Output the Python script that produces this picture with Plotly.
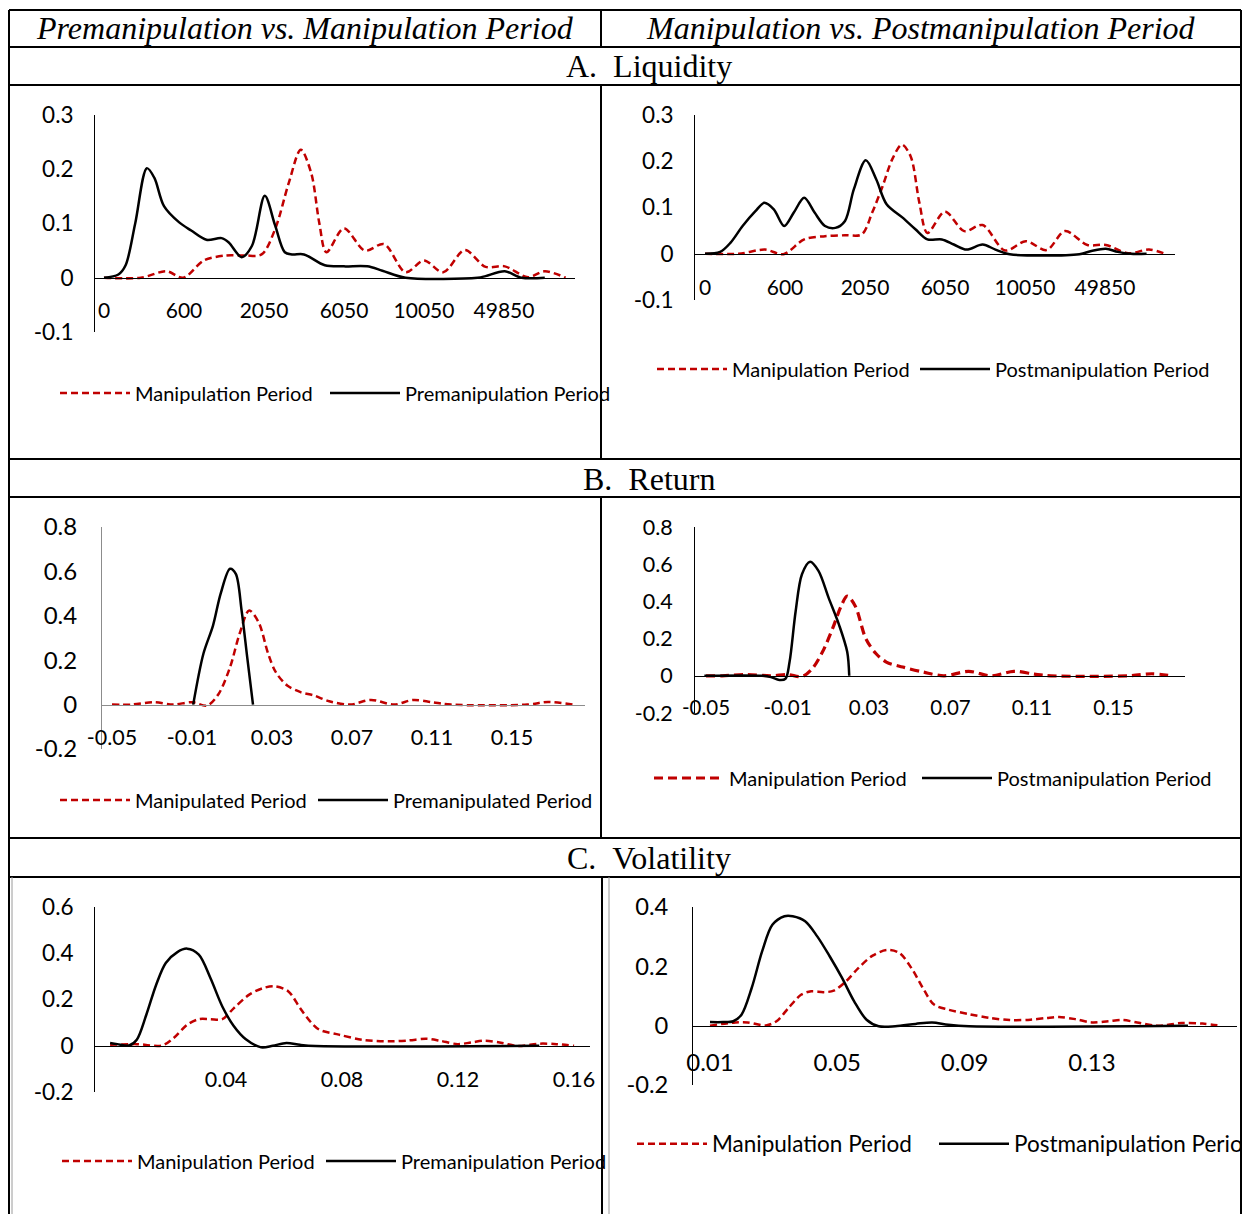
import plotly.graph_objects as go

W, H = 1242, 1214

# ---------------- data ----------------
# Panel A (Liquidity): x is the position on the category axis (label spacing = 1)
liq_tickvals = [0, 1, 2, 3, 4, 5]
liq_ticktext = ['0', '600', '2050', '6050', '10050', '49850']

liqL_man_x = [0, 0.46, 0.78, 0.99, 1.25, 1.52, 1.76, 1.97, 2.14, 2.31, 2.46, 2.59, 2.69, 2.78, 3.0, 3.26, 3.5, 3.77, 4.0, 4.24, 4.51, 4.77, 5.01, 5.3, 5.51, 5.77]
liqL_man_y = [0, 0, 0.012, 0, 0.032, 0.041, 0.041, 0.043, 0.09, 0.175, 0.236, 0.193, 0.102, 0.047, 0.091, 0.05, 0.062, 0.01, 0.032, 0.01, 0.051, 0.02, 0.021, 0.001, 0.012, 0]
liqL_pre_x = [0, 0.18, 0.27, 0.39, 0.536, 0.63, 0.75, 0.94, 1.09, 1.28, 1.47, 1.56, 1.72, 1.85, 2.01, 2.14, 2.26, 2.35, 2.5, 2.76, 3.0, 3.29, 3.48, 3.77, 4.67, 4.77, 5.01, 5.22, 5.51]
liqL_pre_y = [0, 0.006, 0.023, 0.10, 0.202, 0.184, 0.132, 0.102, 0.087, 0.07, 0.073, 0.065, 0.038, 0.059, 0.151, 0.096, 0.047, 0.043, 0.043, 0.023, 0.021, 0.021, 0.013, 0, 0, 0.003, 0.012, 0, 0]

liqR_man_x = [0, 0.42, 0.75, 0.98, 1.24, 1.5, 1.75, 1.96, 2.09, 2.22, 2.34, 2.46, 2.57, 2.68, 2.78, 3.0, 3.24, 3.47, 3.75, 4.01, 4.27, 4.5, 4.78, 5.01, 5.29, 5.55, 5.75]
liqR_man_y = [0, 0, 0.009, -0.001, 0.031, 0.038, 0.04, 0.042, 0.089, 0.146, 0.204, 0.236, 0.211, 0.11, 0.045, 0.091, 0.049, 0.062, 0.007, 0.027, 0.008, 0.049, 0.019, 0.019, 0.001, 0.009, 0]
liqR_post_x = [0, 0.19, 0.32, 0.47, 0.63, 0.74, 0.86, 0.99, 1.11, 1.24, 1.37, 1.5, 1.63, 1.75, 1.86, 2.01, 2.14, 2.27, 2.47, 2.63, 2.78, 2.96, 3.11, 3.27, 3.47, 3.63, 3.81, 4.68, 4.83, 5.01, 5.16, 5.32, 5.52]
liqR_post_y = [0, 0.004, 0.024, 0.06, 0.092, 0.11, 0.096, 0.06, 0.089, 0.121, 0.089, 0.06, 0.056, 0.071, 0.139, 0.202, 0.161, 0.107, 0.078, 0.053, 0.031, 0.031, 0.02, 0.009, 0.02, 0.009, -0.001, -0.001, 0.006, 0.011, 0.004, 0, 0]

# Panel B (Return)
ret_tickvals = [-0.05, -0.01, 0.03, 0.07, 0.11, 0.15]
ret_ticktext = ['-0.05', '-0.01', '0.03', '0.07', '0.11', '0.15']

retL_man_x = [-0.05, -0.0405, -0.029, -0.0195, -0.01, -0.0024, 0.0033, 0.009, 0.0138, 0.0186, 0.0233, 0.0281, 0.0319, 0.0376, 0.0443, 0.051, 0.0586, 0.069, 0.0795, 0.091, 0.1005, 0.11, 0.1195, 0.1576, 0.168, 0.1805]
retL_man_y = [0, 0, 0.011, 0, 0.011, -0.004, 0.048, 0.168, 0.319, 0.424, 0.371, 0.229, 0.146, 0.086, 0.056, 0.041, 0.015, 0, 0.021, 0, 0.021, 0.011, 0, 0, 0.012, 0]
retL_pre_x = [-0.0094, -0.0043, 0.0005, 0.0043, 0.009, 0.0119, 0.0148, 0.0176, 0.0205]
retL_pre_y = [0, 0.229, 0.356, 0.499, 0.612, 0.589, 0.424, 0.214, 0]

retR_man_x = [-0.05, -0.042, -0.03, -0.018, -0.01, -0.0029, 0.0021, 0.0072, 0.0122, 0.0163, 0.0193, 0.0233, 0.0284, 0.0334, 0.0385, 0.0466, 0.0567, 0.0668, 0.0789, 0.09, 0.1011, 0.1112, 0.1193, 0.1577, 0.1688, 0.1789]
retR_man_y = [0, 0, 0.007, 0, 0.007, -0.004, 0.038, 0.129, 0.256, 0.374, 0.428, 0.374, 0.201, 0.12, 0.074, 0.047, 0.02, 0, 0.024, 0, 0.024, 0.009, 0, 0, 0.011, 0]
retR_post_x = [-0.0508, -0.0221, -0.0181, -0.014, -0.011, -0.009, -0.006, -0.0029, 0.0011, 0.0052, 0.0102, 0.0153, 0.0193, 0.0203]
retR_post_y = [0, 0, -0.007, -0.022, -0.016, 0.074, 0.347, 0.546, 0.613, 0.564, 0.419, 0.274, 0.129, 0]

# Panel C (Volatility)
volL_tickvals = [0.04, 0.08, 0.12, 0.16]
volL_ticktext = ['0.04', '0.08', '0.12', '0.16']
volR_tickvals = [0.01, 0.05, 0.09, 0.13]
volR_ticktext = ['0.01', '0.05', '0.09', '0.13']

volL_man_x = [0.0, 0.0092, 0.0179, 0.0219, 0.0266, 0.0306, 0.0346, 0.0387, 0.0427, 0.048, 0.0527, 0.0568, 0.0615, 0.0655, 0.0695, 0.0722, 0.0789, 0.0869, 0.0963, 0.103, 0.109, 0.1137, 0.1198, 0.1245, 0.1292, 0.1352, 0.1406, 0.148, 0.154, 0.16]
volL_man_y = [0.004, 0.007, 0.001, 0.033, 0.091, 0.115, 0.115, 0.115, 0.163, 0.221, 0.249, 0.257, 0.235, 0.163, 0.098, 0.069, 0.048, 0.026, 0.019, 0.023, 0.03, 0.022, 0.007, 0.014, 0.022, 0.012, -0.001, 0.009, 0.007, 0]
volL_pre_x = [0.0, 0.0025, 0.0065, 0.0092, 0.0125, 0.0159, 0.0192, 0.0232, 0.0266, 0.0306, 0.0346, 0.0387, 0.0427, 0.0467, 0.0521, 0.0561, 0.0608, 0.0655, 0.0708, 0.148]
volL_pre_y = [0.012, 0.007, 0.001, 0.026, 0.134, 0.264, 0.358, 0.405, 0.42, 0.394, 0.293, 0.17, 0.084, 0.029, -0.007, 0, 0.012, 0.004, -0.001, 0]

volR_man_x = [0.01, 0.018, 0.0218, 0.0276, 0.0309, 0.0347, 0.0386, 0.0418, 0.0457, 0.0489, 0.0527, 0.0566, 0.0611, 0.0656, 0.0695, 0.0733, 0.0772, 0.0804, 0.0849, 0.0914, 0.0978, 0.1042, 0.1107, 0.1158, 0.1197, 0.1248, 0.13, 0.1351, 0.1397, 0.1442, 0.1506, 0.1583, 0.1648, 0.1705]
volR_man_y = [0, 0.011, 0.011, 0.001, 0.015, 0.06, 0.104, 0.116, 0.113, 0.118, 0.149, 0.194, 0.236, 0.255, 0.245, 0.194, 0.121, 0.071, 0.054, 0.039, 0.026, 0.019, 0.02, 0.026, 0.029, 0.022, 0.011, 0.015, 0.019, 0.011, 0, 0.009, 0.007, 0]
volR_post_x = [0.01, 0.0141, 0.0173, 0.0199, 0.0231, 0.0264, 0.0296, 0.0334, 0.036, 0.0399, 0.0437, 0.0476, 0.0515, 0.0553, 0.0592, 0.063, 0.0682, 0.0746, 0.0798, 0.0849, 0.0914, 0.1602]
volR_post_y = [0.012, 0.012, 0.015, 0.037, 0.127, 0.251, 0.34, 0.369, 0.369, 0.352, 0.301, 0.234, 0.161, 0.082, 0.02, -0.002, -0.002, 0.006, 0.011, 0.003, -0.002, 0]

yA_vals = [-0.1, 0, 0.1, 0.2, 0.3]
yA_text = ['-0.1', '0', '0.1', '0.2', '0.3']
yB_vals = [-0.2, 0, 0.2, 0.4, 0.6, 0.8]
yB_text = ['-0.2', '0', '0.2', '0.4', '0.6', '0.8']
yCL_vals = [-0.2, 0, 0.2, 0.4, 0.6]
yCL_text = ['-0.2', '0', '0.2', '0.4', '0.6']
yCR_vals = [-0.2, 0, 0.2, 0.4]
yCR_text = ['-0.2', '0', '0.2', '0.4']

header_left = 'Premanipulation vs. Manipulation Period'
header_right = 'Manipulation vs. Postmanipulation Period'
sections = [('A.', 'Liquidity'), ('B.', 'Return'), ('C.', 'Volatility')]

# ---------------- layout helpers ----------------
RED = '#C00000'
SANS = 'Lato, Carlito, Calibri, sans-serif'
SERIF = 'Liberation Serif, Times New Roman, serif'


def fx(p):
    return p / W


def fy(p):
    return 1 - p / H


panels = [
    dict(box=(95, 575, 115, 332), xr=[-0.1125, 5.8875], yr=[-0.1, 0.3], xt=(liq_tickvals, liq_ticktext),
         yt=(yA_vals, yA_text), lc='black', fs=22.5, xfs=21, ystand=16, xstand=14,
         series=[(liqL_man_x, liqL_man_y, 'Manipulation Period', RED, '7px,4px', 2.5),
                 (liqL_pre_x, liqL_pre_y, 'Premanipulation Period', 'black', 'solid', 2.5)],
         leg=[(60, 393), (330, 393)], lfs=20),
    dict(box=(695, 1175, 115, 300), xr=[-0.125, 5.875], yr=[-0.1, 0.3], xt=(liq_tickvals, liq_ticktext),
         yt=(yA_vals, yA_text), lc='black', fs=22.5, xfs=21, ystand=16, xstand=15,
         series=[(liqR_man_x, liqR_man_y, 'Manipulation Period', RED, '7px,4px', 2.5),
                 (liqR_post_x, liqR_post_y, 'Postmanipulation Period', 'black', 'solid', 2.5)],
         leg=[(657, 369), (920, 369)], lfs=20),
    dict(box=(102, 585, 527, 749), xr=[-0.055, 0.1865], yr=[-0.2, 0.8], xt=(ret_tickvals, ret_ticktext),
         yt=(yB_vals, yB_text), lc='#8c8c8c', fs=24, xfs=21.5, ystand=19, xstand=14,
         series=[(retL_man_x, retL_man_y, 'Manipulated Period', RED, '7px,4px', 2.5),
                 (retL_pre_x, retL_pre_y, 'Premanipulated Period', 'black', 'solid', 2.5)],
         leg=[(60, 800), (318, 800)], lfs=20),
    dict(box=(695, 1185, 527, 713), xr=[-0.0554, 0.1851], yr=[-0.2, 0.8], xt=(ret_tickvals, ret_ticktext),
         yt=(yB_vals, yB_text), lc='black', fs=21.5, xfs=20.5, ystand=17, xstand=14,
         series=[(retR_man_x, retR_man_y, 'Manipulation Period', RED, '9px,5px', 3.2),
                 (retR_post_x, retR_post_y, 'Postmanipulation Period', 'black', 'solid', 2.5)],
         leg=[(654, 778), (922, 778)], lfs=20),
    dict(box=(95, 590, 907, 1092), xr=[-0.0052, 0.1655], yr=[-0.2, 0.6], xt=(volL_tickvals, volL_ticktext),
         yt=(yCL_vals, yCL_text), lc='black', fs=22.5, xfs=21.5, ystand=16, xstand=14,
         series=[(volL_man_x, volL_man_y, 'Manipulation Period', RED, '7px,4px', 2.5),
                 (volL_pre_x, volL_pre_y, 'Premanipulation Period', 'black', 'solid', 2.5)],
         leg=[(62, 1161), (326, 1161)], lfs=20),
    dict(box=(693, 1237, 907, 1085), xr=[0.00466, 0.1756], yr=[-0.2, 0.4], xt=(volR_tickvals, volR_ticktext),
         yt=(yCR_vals, yCR_text), lc='black', fs=23.7, xfs=24, ystand=19, xstand=16,
         series=[(volR_man_x, volR_man_y, 'Manipulation Period', RED, '7px,4px', 2.5),
                 (volR_post_x, volR_post_y, 'Postmanipulation Period', 'black', 'solid', 2.5)],
         leg=[(637, 1144), (939, 1144)], lfs=22.5),
]

fig = go.Figure()
layout = dict(width=W, height=H, margin=dict(l=0, r=0, t=0, b=0, autoexpand=False),
              paper_bgcolor='white', plot_bgcolor='rgba(0,0,0,0)', showlegend=True)

leg_n = 0
for i, p in enumerate(panels, start=1):
    l, r, t, b = p['box']
    xs = '' if i == 1 else str(i)
    yd = [fy(b), fy(t)]
    y0, y1 = p['yr']
    zero_pos = yd[0] + (0 - y0) / (y1 - y0) * (yd[1] - yd[0])
    layout['xaxis' + xs] = dict(domain=[fx(l), fx(r)], range=p['xr'], anchor='free', position=zero_pos,
                               showline=True, linecolor=p['lc'], linewidth=1, showgrid=False, zeroline=False,
                               tickmode='array', tickvals=p['xt'][0], ticktext=p['xt'][1], ticks='',
                               ticklabelstandoff=p['xstand'],
                               tickfont=dict(family=SANS, size=p['xfs'], color='black'), fixedrange=True)
    layout['yaxis' + xs] = dict(domain=yd, range=p['yr'], anchor='x' + xs, showline=True, linecolor=p['lc'],
                               linewidth=1, showgrid=False, zeroline=False, tickmode='array',
                               tickvals=p['yt'][0], ticktext=p['yt'][1], ticks='',
                               ticklabelstandoff=p['ystand'],
                               tickfont=dict(family=SANS, size=p['fs'], color='black'), fixedrange=True)
    for (sx, sy, name, col, dash, wd), (lx, ly) in zip(p['series'], p['leg']):
        leg_n += 1
        lname = 'legend' if leg_n == 1 else 'legend%d' % leg_n
        fig.add_trace(go.Scatter(x=sx, y=sy, mode='lines', name=name, xaxis='x' + xs, yaxis='y' + xs,
                                 legend=lname,
                                 line=dict(color=col, dash=dash, width=wd, shape='spline', smoothing=0.9)))
        layout[lname] = dict(x=fx(lx - 5), y=fy(ly), xanchor='left', yanchor='middle', orientation='h',
                             bgcolor='rgba(0,0,0,0)', borderwidth=0, itemwidth=70,
                             font=dict(family=SANS, size=p['lfs'], color='black'))

# ---------------- table frame ----------------
shapes = []
BOTTOM = 1214


def hline(y, x0=9, x1=1241, w=2, c='black'):
    shapes.append(dict(type='line', xref='paper', yref='paper', x0=fx(x0), x1=fx(x1), y0=fy(y), y1=fy(y),
                       line=dict(color=c, width=w)))


def vline(x, y0, y1, w=2, c='black'):
    shapes.append(dict(type='line', xref='paper', yref='paper', x0=fx(x), x1=fx(x), y0=fy(y0), y1=fy(y1),
                       line=dict(color=c, width=w)))


for yy in [10, 47, 85, 459, 497, 838, 877]:
    hline(yy)
vline(9, 10, BOTTOM)
vline(1241, 10, BOTTOM)
vline(601, 10, 47)
vline(601, 85, 459)
vline(601, 497, 838)
vline(602, 877, BOTTOM)
vline(609, 877, BOTTOM, w=1, c='#9a9a9a')
vline(12, 877, BOTTOM, w=1, c='#9a9a9a')
layout['shapes'] = shapes

ann = [
    dict(text='<i>%s</i>' % header_left, x=fx(305), y=fy(28)),
    dict(text='<i>%s</i>' % header_right, x=fx(921), y=fy(28)),
]
for (lab, word), yc in zip(sections, [66, 479, 858]):
    ann.append(dict(text=lab + '\u2002' + word, x=fx(649), y=fy(yc)))
for a in ann:
    a.update(xref='paper', yref='paper', showarrow=False, xanchor='center', yanchor='middle',
             font=dict(family=SERIF, size=32, color='black'))
layout['annotations'] = ann

fig.update_layout(**layout)
# remove the browser's default 8px page margin so the figure sits at the window's top-left corner
fig.write_html('out.html', config={'displayModeBar': False, 'staticPlot': True},
               post_script="document.body.style.margin='0';document.body.style.overflow='hidden';")
